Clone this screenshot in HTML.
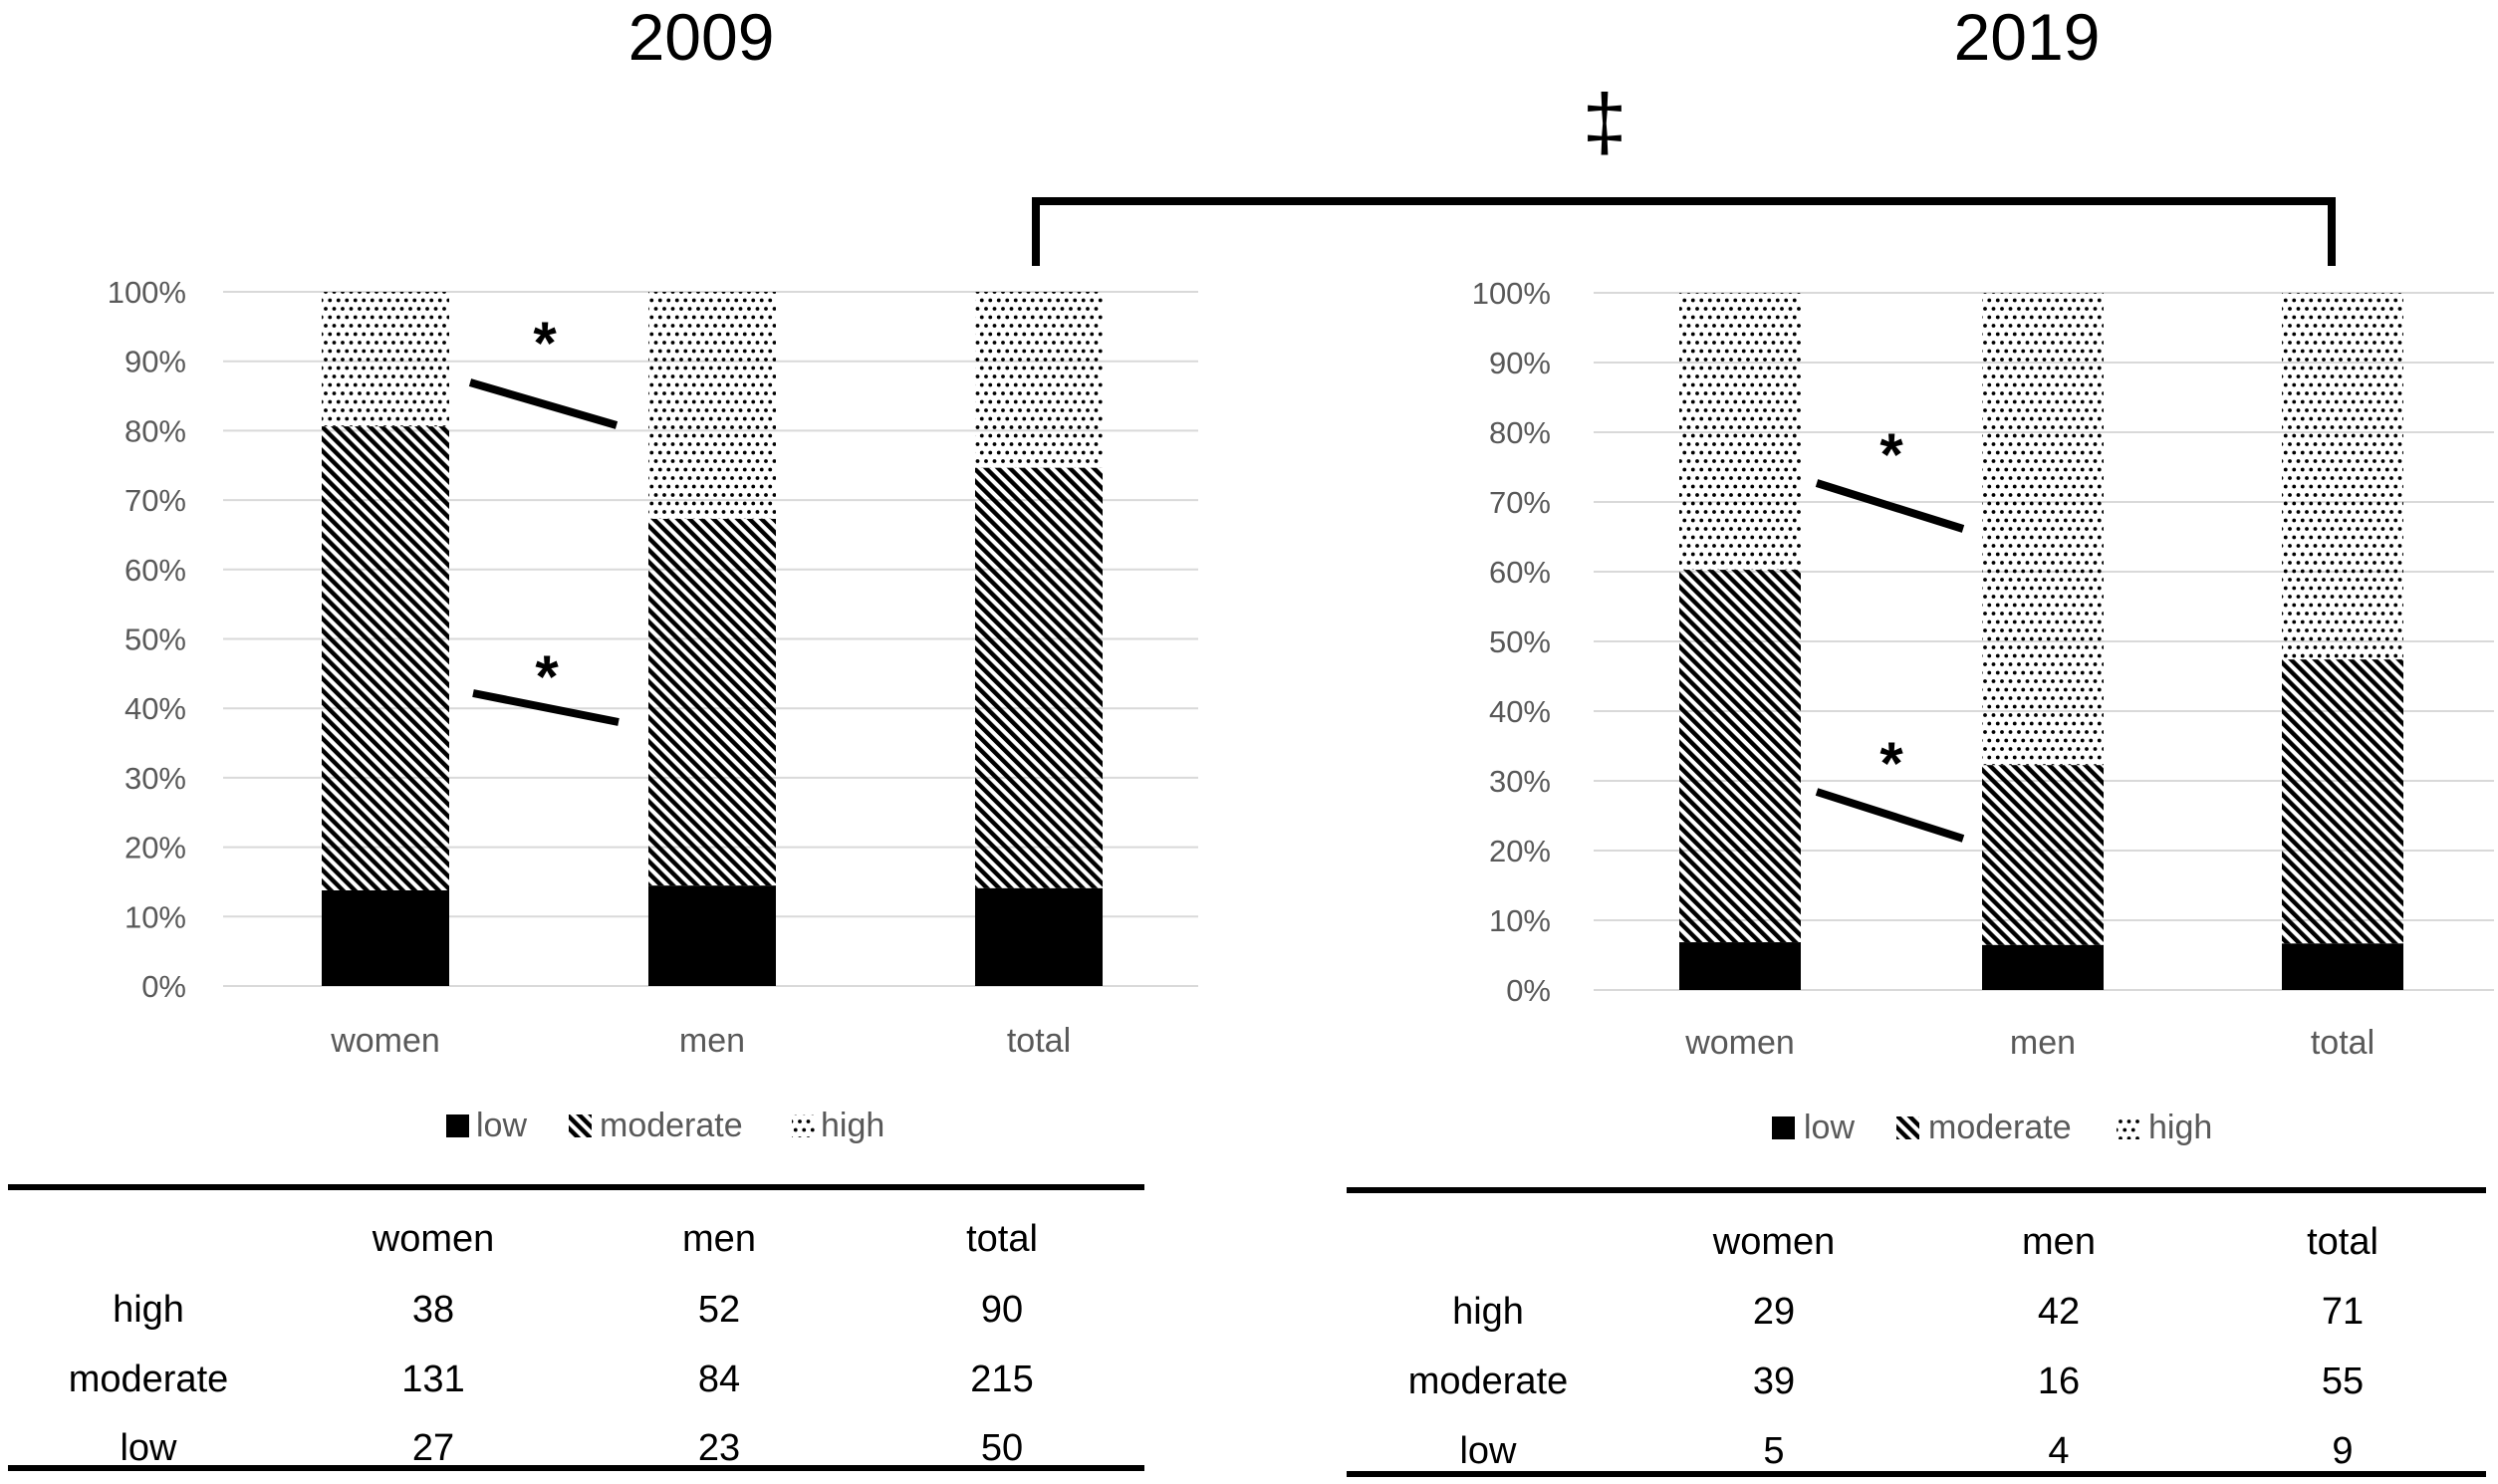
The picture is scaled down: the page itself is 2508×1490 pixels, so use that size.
<!DOCTYPE html>
<html><head><meta charset="utf-8"><style>
html,body{margin:0;padding:0;background:#fff;}
svg{display:block;font-family:"Liberation Sans",sans-serif;}
</style></head><body>
<svg id="chart" width="2508" height="1490" viewBox="0 0 2508 1490">
<defs>
<pattern id="stripes" patternUnits="userSpaceOnUse" width="8.5" height="8.5" patternTransform="rotate(-45)">
<rect x="0" y="0" width="4.4" height="8.5" fill="#000"/>
</pattern>
<pattern id="dots" patternUnits="userSpaceOnUse" width="17" height="17">
<circle cx="4" cy="4" r="1.9" fill="#000"/><circle cx="12.5" cy="4" r="1.9" fill="#000"/>
<circle cx="8.25" cy="12.5" r="1.9" fill="#000"/><circle cx="16.75" cy="12.5" r="1.9" fill="#000"/><circle cx="-0.25" cy="12.5" r="1.9" fill="#000"/>
</pattern>
</defs>
</svg>
<script>
const categories = ["women","men","total"];
const levels = ["low","moderate","high"];
const low2009 = [27,23,50];
const moderate2009 = [131,84,215];
const high2009 = [38,52,90];
const low2019 = [5,4,9];
const moderate2019 = [39,16,55];
const high2019 = [29,42,71];
const yTicks = [0,10,20,30,40,50,60,70,80,90,100];

const NS="http://www.w3.org/2000/svg";
const svg=document.getElementById('chart');
function mk(tag,attrs,parent){const e=document.createElementNS(NS,tag);for(const k in attrs)e.setAttribute(k,attrs[k]);(parent||svg).appendChild(e);return e;}
function txt(x,y,s,size,fill,anchor,weight){const t=mk('text',{x:x,y:y,'font-size':size,fill:fill,'text-anchor':anchor||'middle','font-weight':weight||'normal'});t.textContent=s;return t;}

const panels=[
 {year:"2009",titleX:704,lowV:low2009,modV:moderate2009,highV:high2009,y0:990,y100:293,gx0:224,gx1:1203,labelX:187,centers:[387,715,1043],bw:128,catY:1056,
  legend:{y:1141,sq:448,low:478,modIcon:571,mod:602,highIcon:795,high:824},
  table:{x0:8,x1:1149,top:1192,bot:1474,cols:[149,435,722,1006],rows:[1243,1314,1384,1453]}},
 {year:"2019",titleX:2035,lowV:low2019,modV:moderate2019,highV:high2019,y0:994,y100:294,gx0:1600,gx1:2504,labelX:1557,centers:[1747,2051,2352],bw:122,catY:1058,
  legend:{y:1143,sq:1779,low:1811,modIcon:1904,mod:1936,highIcon:2125,high:2157},
  table:{x0:1352,x1:2496,top:1195,bot:1480,cols:[1494,1781,2067,2352],rows:[1246,1316,1386,1456]}}
];

panels.forEach(p=>{
  const title=txt(p.titleX,60,p.year,66,'#000');
  
  
  const yScale=v=>p.y0-(v/100)*(p.y0-p.y100);
  yTicks.forEach(t=>{
    const l=mk('line',{x1:p.gx0,x2:p.gx1,y1:yScale(t),y2:yScale(t),stroke:'#d9d9d9','stroke-width':2});
    
    
    const lb=txt(p.labelX,yScale(t)+11,t+'%',31,'#595959','end');
    
    
  });
  categories.forEach((c,i)=>{
    const tot=p.lowV[i]+p.modV[i]+p.highV[i];
    const segs=[[p.lowV[i],'#000','low'],[p.modV[i],'url(#stripes)','moderate'],[p.highV[i],'url(#dots)','high']];
    let cum=0;
    segs.forEach(s=>{
      const a=cum/tot*100, b=(cum+s[0])/tot*100; cum+=s[0];
      const r=mk('rect',{x:p.centers[i]-p.bw/2,y:yScale(b),width:p.bw,height:yScale(a)-yScale(b),fill:s[1]});
      
      
    });
    const cl=txt(p.centers[i],p.catY,c,34,'#595959');
    
    
  });
  const L=p.legend;
  const sq=mk('rect',{x:L.sq,y:L.y-22,width:23,height:23,fill:'#000'});
  
  
  const t1=txt(L.low,L.y,'low',34,'#595959','start');
  
  
  const s2=mk('rect',{x:L.modIcon,y:L.y-22,width:23,height:23,fill:'url(#stripes)'});
  
  
  const t2=txt(L.mod,L.y,'moderate',34,'#595959','start');
  
  
  const s3=mk('rect',{x:L.highIcon,y:L.y-22,width:23,height:23,fill:'url(#dots)'});
  
  
  const t3=txt(L.high,L.y,'high',34,'#595959','start');
  
  
  const T=p.table;
  const tl=mk('line',{x1:T.x0,x2:T.x1,y1:T.top,y2:T.top,stroke:'#000','stroke-width':6});
  
  
  const bl=mk('line',{x1:T.x0,x2:T.x1,y1:T.bot,y2:T.bot,stroke:'#000','stroke-width':6});
  
  
  categories.forEach((c,i)=>{
    const h=txt(T.cols[i+1],T.rows[0]+13,c,38,'#000');
    
    
  });
  const rowsData=[['high',p.highV],['moderate',p.modV],['low',p.lowV]];
  rowsData.forEach((rd,ri)=>{
    const y=T.rows[ri+1]+13;
    const rl=txt(T.cols[0],y,rd[0],38,'#000');
    
    
    rd[1].forEach((v,ci)=>{
      const cell=txt(T.cols[ci+1],y,String(v),38,'#000');
      
      
    });
  });
});

function slash(x1,y1,x2,y2,sx,sy,name){
  const l=mk('line',{x1:x1,y1:y1,x2:x2,y2:y2,stroke:'#000','stroke-width':8});
  
  
  const s=txt(sx,sy+40,'*',60,'#000','middle','bold');
  
  
}
slash(472,384,619,427,547,325,'sig-2009-high');
slash(475,696,621,725,549,660,'sig-2009-low');
slash(1824,485,1971,531,1899,437,'sig-2019-high');
slash(1824,795,1971,842,1899,747,'sig-2019-low');

const br=mk('polyline',{points:'1040,267 1040,202 2341,202 2341,267',fill:'none',stroke:'#000','stroke-width':8});


const dg=txt(1611,150,'‡',80,'#000');


</script>
</body></html>
